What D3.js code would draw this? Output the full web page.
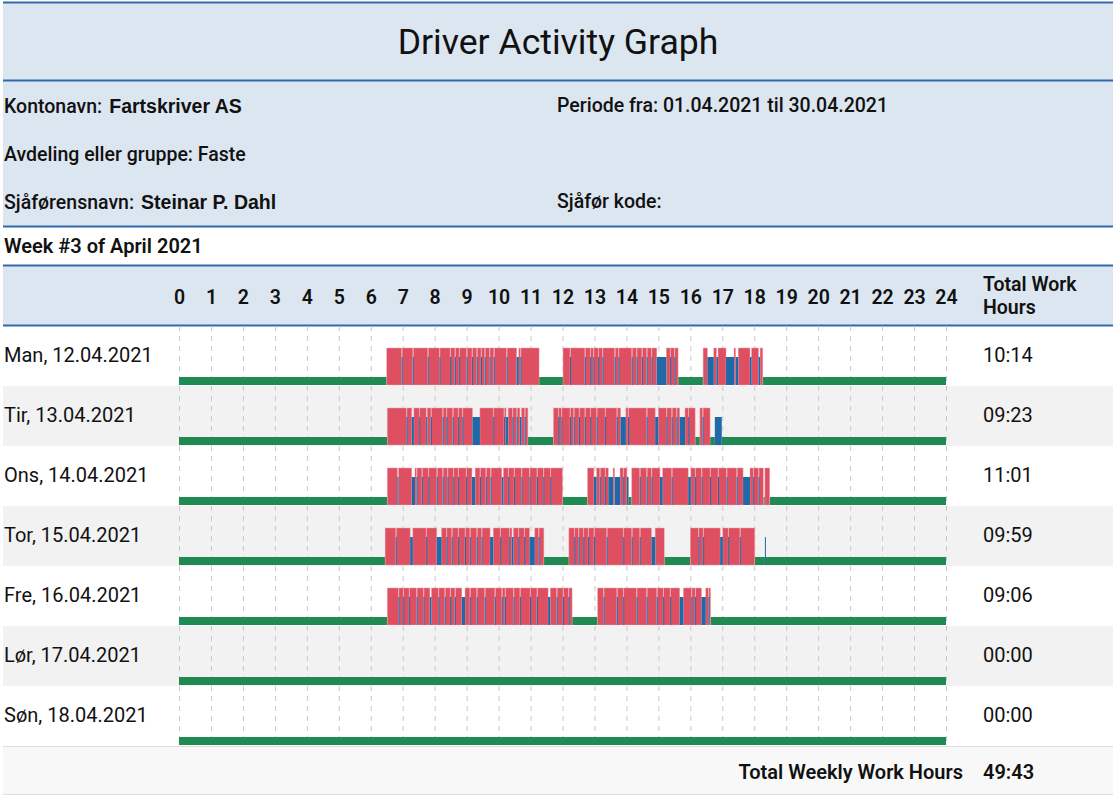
<!DOCTYPE html>
<html>
<head>
<meta charset="utf-8">
<script src="https://cdn.jsdelivr.net/npm/d3@7"></script>
<style>
  body { margin: 0; background: #fff; }
  svg text { font-family: Roboto, "Noto Sans", sans-serif; fill: #111; }
</style>
</head>
<body>
<svg id="chart" width="1113" height="796"></svg>
<script>
// ---- data ----
var title = "Driver Activity Graph";
var infoLeft = [["Kontonavn:", "Fartskriver AS"], ["Avdeling eller gruppe: Faste", ""], ["Sjåførensnavn:", "Steinar P. Dahl"]];
var infoRight = ["Periode fra: 01.04.2021 til 30.04.2021", "", "Sjåfør kode:"];
var weekLabel = "Week #3 of April 2021";
var hourTicks = [0, 1, 2, 3, 4, 5, 6, 7, 8, 9, 10, 11, 12, 13, 14, 15, 16, 17, 18, 19, 20, 21, 22, 23, 24];
var days = ["Man, 12.04.2021", "Tir, 13.04.2021", "Ons, 14.04.2021", "Tor, 15.04.2021", "Fre, 16.04.2021", "Lør, 17.04.2021", "Søn, 18.04.2021"];
var totals = ["10:14", "09:23", "11:01", "09:59", "09:06", "00:00", "00:00"];
var weeklyTotal = "49:43";

// activity change points per day: [time, state]  D = driving, W = other work, R = rest
var man = [["06:30","D"],["06:58","W"],["06:59","D"],["07:19","W"],["07:20","D"],["07:47","W"],["07:48","D"],["08:09","W"],["08:10","D"],
  ["08:29","W"],["08:30","D"],["08:38","W"],["08:39","D"],["08:46","W"],["08:47","D"],["09:00","W"],["09:01","D"],["09:10","W"],["09:11","D"],
  ["09:19","W"],["09:20","D"],["09:27","W"],["09:28","D"],["09:34","W"],["09:35","D"],["09:43","W"],["09:44","D"],["09:51","W"],["09:52","D"],
  ["10:15","W"],["10:16","D"],["10:34","W"],["10:38","D"],["10:41","W"],["10:42","D"],["11:16","R"],
  ["12:01","D"],["12:14","W"],["12:15","D"],["12:42","W"],["12:43","D"],["12:52","W"],["12:53","D"],["12:58","W"],["12:59","D"],["13:07","W"],
  ["13:08","D"],["13:15","W"],["13:16","D"],["13:38","W"],["13:39","D"],["13:45","W"],["13:46","D"],["14:10","W"],["14:11","D"],["14:19","W"],
  ["14:20","D"],["14:29","W"],["14:30","D"],["14:38","W"],["14:39","D"],["14:47","W"],["14:48","D"],["14:57","W"],["15:15","D"],["15:22","W"],
  ["15:23","D"],["15:30","W"],["15:31","D"],["15:37","R"],
  ["16:24","D"],["16:32","W"],["16:44","D"],["16:49","W"],["16:52","D"],["17:07","W"],["17:22","D"],["17:25","W"],["17:30","D"],["17:52","W"],
  ["17:55","D"],["18:08","W"],["18:11","D"],["18:16","R"]];
var tir = [["06:31","D"],["07:07","W"],["07:08","D"],["07:17","W"],["07:21","D"],["07:31","W"],["07:32","D"],["07:44","W"],["07:46","D"],
  ["07:53","W"],["07:54","D"],["08:15","W"],["08:16","D"],["08:22","W"],["08:23","D"],["08:34","W"],["08:35","D"],["08:44","W"],["08:45","D"],
  ["08:52","W"],["08:53","D"],["09:11","W"],["09:25","D"],["09:50","W"],["09:51","D"],["10:10","W"],["10:11","D"],["10:14","W"],["10:18","D"],
  ["10:26","W"],["10:27","D"],["10:34","W"],["10:35","D"],["10:40","W"],["10:43","D"],["10:49","W"],["10:50","D"],["10:55","R"],
  ["11:43","D"],["11:52","W"],["11:53","D"],["11:58","W"],["11:59","D"],["12:14","W"],["12:15","D"],["12:21","W"],["12:22","D"],["12:31","W"],
  ["12:32","D"],["12:42","W"],["12:43","D"],["12:52","W"],["12:53","D"],["13:04","W"],["13:05","D"],["13:20","W"],["13:21","D"],["13:42","W"],
  ["13:43","D"],["13:49","W"],["13:59","D"],["14:03","W"],["14:04","D"],["14:38","W"],["14:39","D"],["14:54","W"],["15:00","D"],["15:15","W"],
  ["15:16","D"],["15:25","W"],["15:26","D"],["15:34","W"],["15:35","D"],["15:40","W"],["15:50","D"],["15:56","W"],["15:57","D"],["16:09","R"],
  ["16:18","D"],["16:23","W"],["16:24","D"],["16:37","R"],["16:46","W"],["16:59","R"]];
var ons = [["06:31","D"],["06:50","W"],["06:52","D"],["07:17","W"],["07:23","D"],["07:26","W"],["07:27","D"],["07:36","W"],["07:37","D"],
  ["07:48","W"],["07:49","D"],["08:04","W"],["08:05","D"],["08:15","W"],["08:16","D"],["08:24","W"],["08:25","D"],["08:35","W"],["08:36","D"],
  ["08:44","W"],["08:45","D"],["08:59","W"],["09:00","D"],["09:10","W"],["09:16","D"],["09:25","W"],["09:26","D"],["09:36","W"],["09:37","D"],
  ["09:45","W"],["09:46","D"],["10:06","W"],["10:09","D"],["10:18","W"],["10:19","D"],["10:29","W"],["10:30","D"],["10:43","W"],["10:44","D"],
  ["10:58","W"],["10:59","D"],["11:12","W"],["11:13","D"],["11:24","W"],["11:25","D"],["11:37","W"],["11:38","D"],["12:00","R"],
  ["12:47","D"],["12:59","W"],["13:04","D"],["13:10","W"],["13:11","D"],["13:20","W"],["13:21","D"],["13:26","W"],["13:35","D"],["13:38","W"],
  ["13:48","D"],["13:54","W"],["13:55","D"],["14:01","W"],["14:04","R"],
  ["14:10","D"],["14:25","W"],["14:26","D"],["14:38","W"],["14:39","D"],["14:47","W"],["14:48","D"],["15:03","W"],["15:08","D"],["15:25","W"],
  ["15:26","D"],["15:56","W"],["16:01","D"],["16:09","W"],["16:10","D"],["16:21","W"],["16:22","D"],["16:37","W"],["16:38","D"],["16:52","W"],
  ["16:53","D"],["17:08","W"],["17:09","D"],["17:27","W"],["17:28","D"],["17:39","W"],["17:52","D"],["17:58","W"],["17:59","D"],["18:08","W"],
  ["18:09","D"],["18:17","R"],["18:20","D"],["18:29","R"]];
var tor = [["06:27","D"],["06:47","W"],["06:48","D"],["07:14","W"],["07:19","D"],["07:44","W"],["07:45","D"],["08:04","W"],["08:13","D"],
  ["08:22","W"],["08:23","D"],["08:32","W"],["08:33","D"],["08:44","W"],["08:45","D"],["08:57","W"],["08:58","D"],["09:06","W"],["09:07","D"],
  ["09:19","W"],["09:20","D"],["09:28","W"],["09:29","D"],["09:44","W"],["09:50","D"],["10:03","W"],["10:04","D"],["10:20","W"],["10:21","D"],
  ["10:25","W"],["10:28","D"],["10:37","W"],["10:38","D"],["10:48","W"],["10:49","D"],["10:58","W"],["11:08","D"],["11:15","W"],["11:16","D"],
  ["11:25","R"],
  ["12:12","D"],["12:22","W"],["12:23","D"],["12:30","W"],["12:31","D"],["12:39","W"],["12:40","D"],["12:48","W"],["12:49","D"],["12:59","W"],
  ["13:00","D"],["13:23","W"],["13:24","D"],["13:54","W"],["13:55","D"],["14:10","W"],["14:11","D"],["14:25","W"],["14:26","D"],["14:47","W"],
  ["14:54","D"],["15:11","R"],
  ["16:00","D"],["16:15","W"],["16:16","D"],["16:24","W"],["16:25","D"],["16:56","W"],["17:01","D"],["17:11","W"],["17:12","D"],["17:33","W"],
  ["17:34","D"],["18:01","R"],["18:20","W"],["18:21","R"]];
var fre = [["06:31","D"],["06:52","W"],["06:53","D"],["07:01","W"],["07:02","D"],["07:12","W"],["07:13","D"],["07:26","W"],["07:27","D"],
  ["07:39","W"],["07:40","D"],["07:51","W"],["07:54","D"],["08:07","W"],["08:08","D"],["08:19","W"],["08:20","D"],["08:29","W"],["08:30","D"],
  ["08:38","W"],["08:39","D"],["08:51","W"],["08:57","D"],["09:06","W"],["09:07","D"],["09:19","W"],["09:20","D"],["09:34","W"],["09:35","D"],
  ["09:53","W"],["09:54","D"],["10:06","W"],["10:07","D"],["10:12","W"],["10:13","D"],["10:28","W"],["10:29","D"],["10:40","W"],["10:41","D"],
  ["10:59","W"],["11:00","D"],["11:12","W"],["11:13","D"],["11:33","W"],["11:37","D"],["11:49","W"],["11:50","D"],["12:01","W"],["12:02","D"],
  ["12:11","W"],["12:12","D"],["12:18","R"],
  ["13:06","D"],["13:17","W"],["13:18","D"],["13:42","W"],["13:43","D"],["13:54","W"],["13:55","D"],["14:19","W"],["14:20","D"],["14:38","W"],
  ["14:39","D"],["14:57","W"],["14:58","D"],["15:09","W"],["15:10","D"],["15:22","W"],["15:23","D"],["15:40","W"],["15:47","D"],["16:02","W"],
  ["16:03","D"],["16:09","W"],["16:10","D"],["16:21","W"],["16:29","D"],["16:34","W"],["16:35","D"],["16:38","R"]];
var lor = [];
var son = [];
var activity = [man, tir, ons, tor, fre, lor, son];

// ---- layout ----
var W = 1113, left = 3;
var svg = d3.select("#chart");

var x = d3.scaleLinear().domain([0, 24]).range([179, 946]);
var y = d3.scaleBand().domain(days).range([326, 746]);
var level = d3.scaleOrdinal().domain(["R", "W", "D"]).range([8, 28, 37]);
var colour = d3.scaleOrdinal().domain(["R", "W", "D"]).range(["#1f8a52", "#1f69a8", "#de4f61"]);

function toHours(t) {
    var p = t.split(":");
    return +p[0] + (+p[1]) / 60;
}

function toSegments(events) {
    var segs = [], state = "R", start = 0;
    events.forEach(function(e) {
        var t = toHours(e[0]);
        if (t > start) segs.push({ start: start, end: t, type: state });
        state = e[1];
        start = t;
    });
    segs.push({ start: start, end: 24, type: state });
    return segs;
}

// header backgrounds
svg.append("rect").attr("x", left).attr("y", 2).attr("width", W - left).attr("height", 224).attr("fill", "#dce6f0");
svg.append("rect").attr("x", left).attr("y", 265).attr("width", W - left).attr("height", 60).attr("fill", "#dce6f0");

// row backgrounds
svg.append("g").selectAll("rect")
    .data(days)
  .enter().append("rect")
    .attr("x", left)
    .attr("y", function(d) { return y(d); })
    .attr("width", W - left)
    .attr("height", y.bandwidth())
    .attr("fill", function(d, i) { return i % 2 ? "#f2f2f2" : "#fff"; });

// footer
svg.append("rect").attr("x", left).attr("y", 747).attr("width", W - left).attr("height", 47).attr("fill", "#f8f8f8");
svg.append("line").attr("x1", left).attr("x2", W).attr("y1", 746.5).attr("y2", 746.5).attr("stroke", "#dedede");
svg.append("line").attr("x1", left).attr("x2", W).attr("y1", 794.5).attr("y2", 794.5).attr("stroke", "#dedede");

// blue rules
[2.5, 80.5, 226.5, 265.5, 325.5].forEach(function(yy) {
    svg.append("line").attr("x1", left).attr("x2", W).attr("y1", yy).attr("y2", yy)
        .attr("stroke", "#3069ad").attr("stroke-width", 2);
});

// titles and info
svg.append("text").attr("x", 558).attr("y", 54).attr("text-anchor", "middle")
    .style("font-size", "35.6px").text(title);

var infoY = [113, 161, 209];
infoLeft.forEach(function(d, i) {
    var t = svg.append("text").attr("x", 4).attr("y", infoY[i]).style("font-size", "19.5px").style("font-weight", 500);
    t.append("tspan").text(d[0]);
    if (d[1]) {
        t.append("tspan").attr("dx", 7)
            .style("font-family", "'Liberation Sans', Arial, sans-serif")
            .style("font-weight", "bold").style("font-size", "19.5px")
            .text(d[1]);
    }
});
infoRight.forEach(function(d, i) {
    if (!d) return;
    svg.append("text").attr("x", 557).attr("y", infoY[i] - 1).style("font-size", "19.5px").style("font-weight", 500).text(d);
});

svg.append("text").attr("x", 4).attr("y", 253).style("font-size", "20px").style("font-weight", 600).text(weekLabel);

// hour labels
var topAxis = svg.append("g")
    .attr("transform", "translate(0,304)")
    .call(d3.axisTop(x).tickValues(hourTicks).tickSize(0).tickPadding(0).tickFormat(d3.format("d")));
topAxis.select(".domain").remove();
topAxis.selectAll("text").style("font-size", "19.5px").style("font-weight", 600)
    .style("font-family", "Roboto, sans-serif").attr("fill", "#111");

var hdr = svg.append("text").attr("x", 983).style("font-size", "19.5px").style("font-weight", 600);
hdr.append("tspan").attr("x", 983).attr("y", 291).text("Total Work");
hdr.append("tspan").attr("x", 983).attr("y", 314).text("Hours");

// dashed hour grid
var grid = svg.append("g")
    .attr("transform", "translate(0,326)")
    .call(d3.axisBottom(x).tickValues(hourTicks).tickSize(420).tickFormat(""));
grid.select(".domain").remove();
grid.selectAll("line").attr("stroke", "#c9c9c9").attr("stroke-dasharray", "5,5");

// activity bars
var rows = svg.append("g").selectAll("g")
    .data(days)
  .enter().append("g")
    .attr("transform", function(d) { return "translate(0," + y(d) + ")"; });

rows.each(function(day, i) {
    var segs = toSegments(activity[i]);
    var base = 59;
    // rest underneath, then driving, then short work periods on top so they stay visible
    var order = { R: 0, D: 1, W: 2 };
    segs.sort(function(a, b) { return order[a.type] - order[b.type]; });
    d3.select(this).selectAll("rect")
        .data(segs)
      .enter().append("rect")
        .attr("x", function(d) { return x(d.start); })
        .attr("width", function(d) { return Math.max(1, x(d.end) - x(d.start)); })
        .attr("y", function(d) { return base - level(d.type); })
        .attr("height", function(d) { return level(d.type); })
        .attr("fill", function(d) { return colour(d.type); })
        .attr("stroke", function(d) { return d.type === "D" ? "#eaa4ae" : "none"; })
        .attr("stroke-opacity", 0.8)
        .attr("stroke-width", 0.6);
});

// day labels and totals
rows.append("text").attr("x", 4).attr("y", 36).style("font-size", "20px").text(function(d) { return d; });
rows.append("text").attr("x", 983).attr("y", 36).style("font-size", "20px")
    .text(function(d, i) { return totals[i]; });

// weekly total
svg.append("text").attr("x", 963).attr("y", 779).attr("text-anchor", "end")
    .style("font-size", "20px").style("font-weight", 600).text("Total Weekly Work Hours");
svg.append("text").attr("x", 983).attr("y", 779)
    .style("font-size", "20px").style("font-weight", 600).text(weeklyTotal);
</script>
</body>
</html>
